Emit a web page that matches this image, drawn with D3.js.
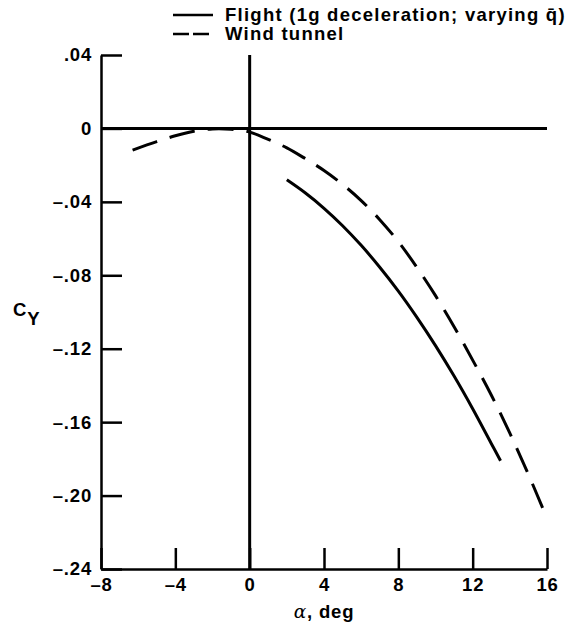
<!DOCTYPE html>
<html>
<head>
    <script src="https://cdnjs.cloudflare.com/ajax/libs/d3/7.8.5/d3.min.js"></script>
    <style>
        body { margin: 0; background: #fff; }
        svg text {
            font-family: "Liberation Sans", Arial, sans-serif;
            font-weight: bold;
            fill: #000;
            letter-spacing: 0.8px;
        }
        .axis path, .axis line { stroke: #000; stroke-width: 2.5; }
        .axis text { font-size: 18.5px; }
        .curve { fill: none; stroke: #000; stroke-width: 3; }
        .legend-text { font-size: 18.5px; letter-spacing: 1.25px; }
    </style>
</head>
<body>
    <svg id="chart" width="573" height="631"></svg>

    <script>
        // data
        const windAlpha = [-6.3, -5, -4, -3, -2, -1, 0, 1, 2, 3, 4, 5, 6, 7, 8, 9, 10, 11, 12, 13, 14, 15, 16];
        const windCy = [-0.0118, -0.0072, -0.0040, -0.0015, -0.0003, -0.0005, -0.0020, -0.0060, -0.0106, -0.0165,
                        -0.0229, -0.0305, -0.0393, -0.0497, -0.0617, -0.0757, -0.0911, -0.1080, -0.1262, -0.1452,
                        -0.1660, -0.1885, -0.2124];
        const flightAlpha = [2, 3, 4, 5, 6, 7, 8, 9, 10, 11, 12, 13, 13.5];
        const flightCy = [-0.0280, -0.0352, -0.0435, -0.0530, -0.0637, -0.0756, -0.0886, -0.1029, -0.1183, -0.1349,
                          -0.1527, -0.1716, -0.1810];
        const xTicks = [-8, -4, 0, 4, 8, 12, 16];
        const yTicks = [0.04, 0, -0.04, -0.08, -0.12, -0.16, -0.20, -0.24];
        const legendLabels = ["Flight (1g deceleration; varying q\u0304)", "Wind tunnel"];

        const svg = d3.select("#chart");
        const plotLeft = 101, plotRight = 547, plotTop = 55, plotBottom = 569;

        const x = d3.scaleLinear().domain([-8, 16]).range([plotLeft, plotRight]);
        const y = d3.scaleLinear().domain([0.04, -0.24]).range([plotTop, plotBottom]);

        const minus = v => (v < 0 ? "\u2013" : "");
        const fmtY = d => d === 0 ? "0" : minus(d) + d3.format(".2f")(Math.abs(d)).slice(1);
        const fmtX = d => minus(d) + Math.abs(d);

        // axes with inward ticks
        svg.append("g")
            .attr("class", "axis")
            .attr("transform", `translate(${plotLeft},0)`)
            .call(d3.axisLeft(y).tickValues(yTicks).tickSize(-21).tickSizeOuter(0).tickPadding(9).tickFormat(fmtY));

        svg.append("g")
            .attr("class", "axis")
            .attr("transform", `translate(0,${plotBottom})`)
            .call(d3.axisBottom(x).tickValues(xTicks).tickSize(-21).tickSizeOuter(0).tickPadding(9).tickFormat(fmtX));

        // zero reference lines
        svg.append("line")
            .attr("x1", x(-8)).attr("x2", x(16))
            .attr("y1", y(0)).attr("y2", y(0))
            .attr("stroke", "#000").attr("stroke-width", 3);
        svg.append("line")
            .attr("x1", x(0)).attr("x2", x(0))
            .attr("y1", y(0.04)).attr("y2", y(-0.24))
            .attr("stroke", "#000").attr("stroke-width", 3);

        const line = d3.line()
            .x(d => x(d[0]))
            .y(d => y(d[1]))
            .curve(d3.curveCatmullRom.alpha(0.5));

        svg.append("path")
            .attr("class", "curve")
            .attr("d", line(d3.zip(windAlpha, windCy)))
            .attr("stroke-dasharray", "26,13");

        svg.append("path")
            .attr("class", "curve")
            .attr("d", line(d3.zip(flightAlpha, flightCy)));

        // legend
        const legend = svg.append("g");
        legendLabels.forEach((label, i) => {
            const ly = 15 + i * 19;
            legend.append("line")
                .attr("x1", 173).attr("x2", 213)
                .attr("y1", ly).attr("y2", ly)
                .attr("stroke", "#000").attr("stroke-width", 2.5)
                .attr("stroke-dasharray", i === 1 ? "16,4" : null);
            legend.append("text")
                .attr("class", "legend-text")
                .attr("x", 225).attr("y", ly + 6)
                .text(label);
        });

        // axis titles
        const yLab = svg.append("text")
            .attr("x", 13).attr("y", 316)
            .style("font-size", "18.5px");
        yLab.append("tspan").text("C");
        yLab.append("tspan").attr("dy", 9).text("Y");

        const xLab = svg.append("text")
            .attr("x", x(4)).attr("y", 618)
            .attr("text-anchor", "middle")
            .style("font-size", "18.5px");
        xLab.append("tspan").style("font-style", "italic").style("font-weight", "normal")
            .style("font-family", "'DejaVu Serif', serif").text("\u03b1");
        xLab.append("tspan").text(", deg");
    </script>
</body>
</html>
